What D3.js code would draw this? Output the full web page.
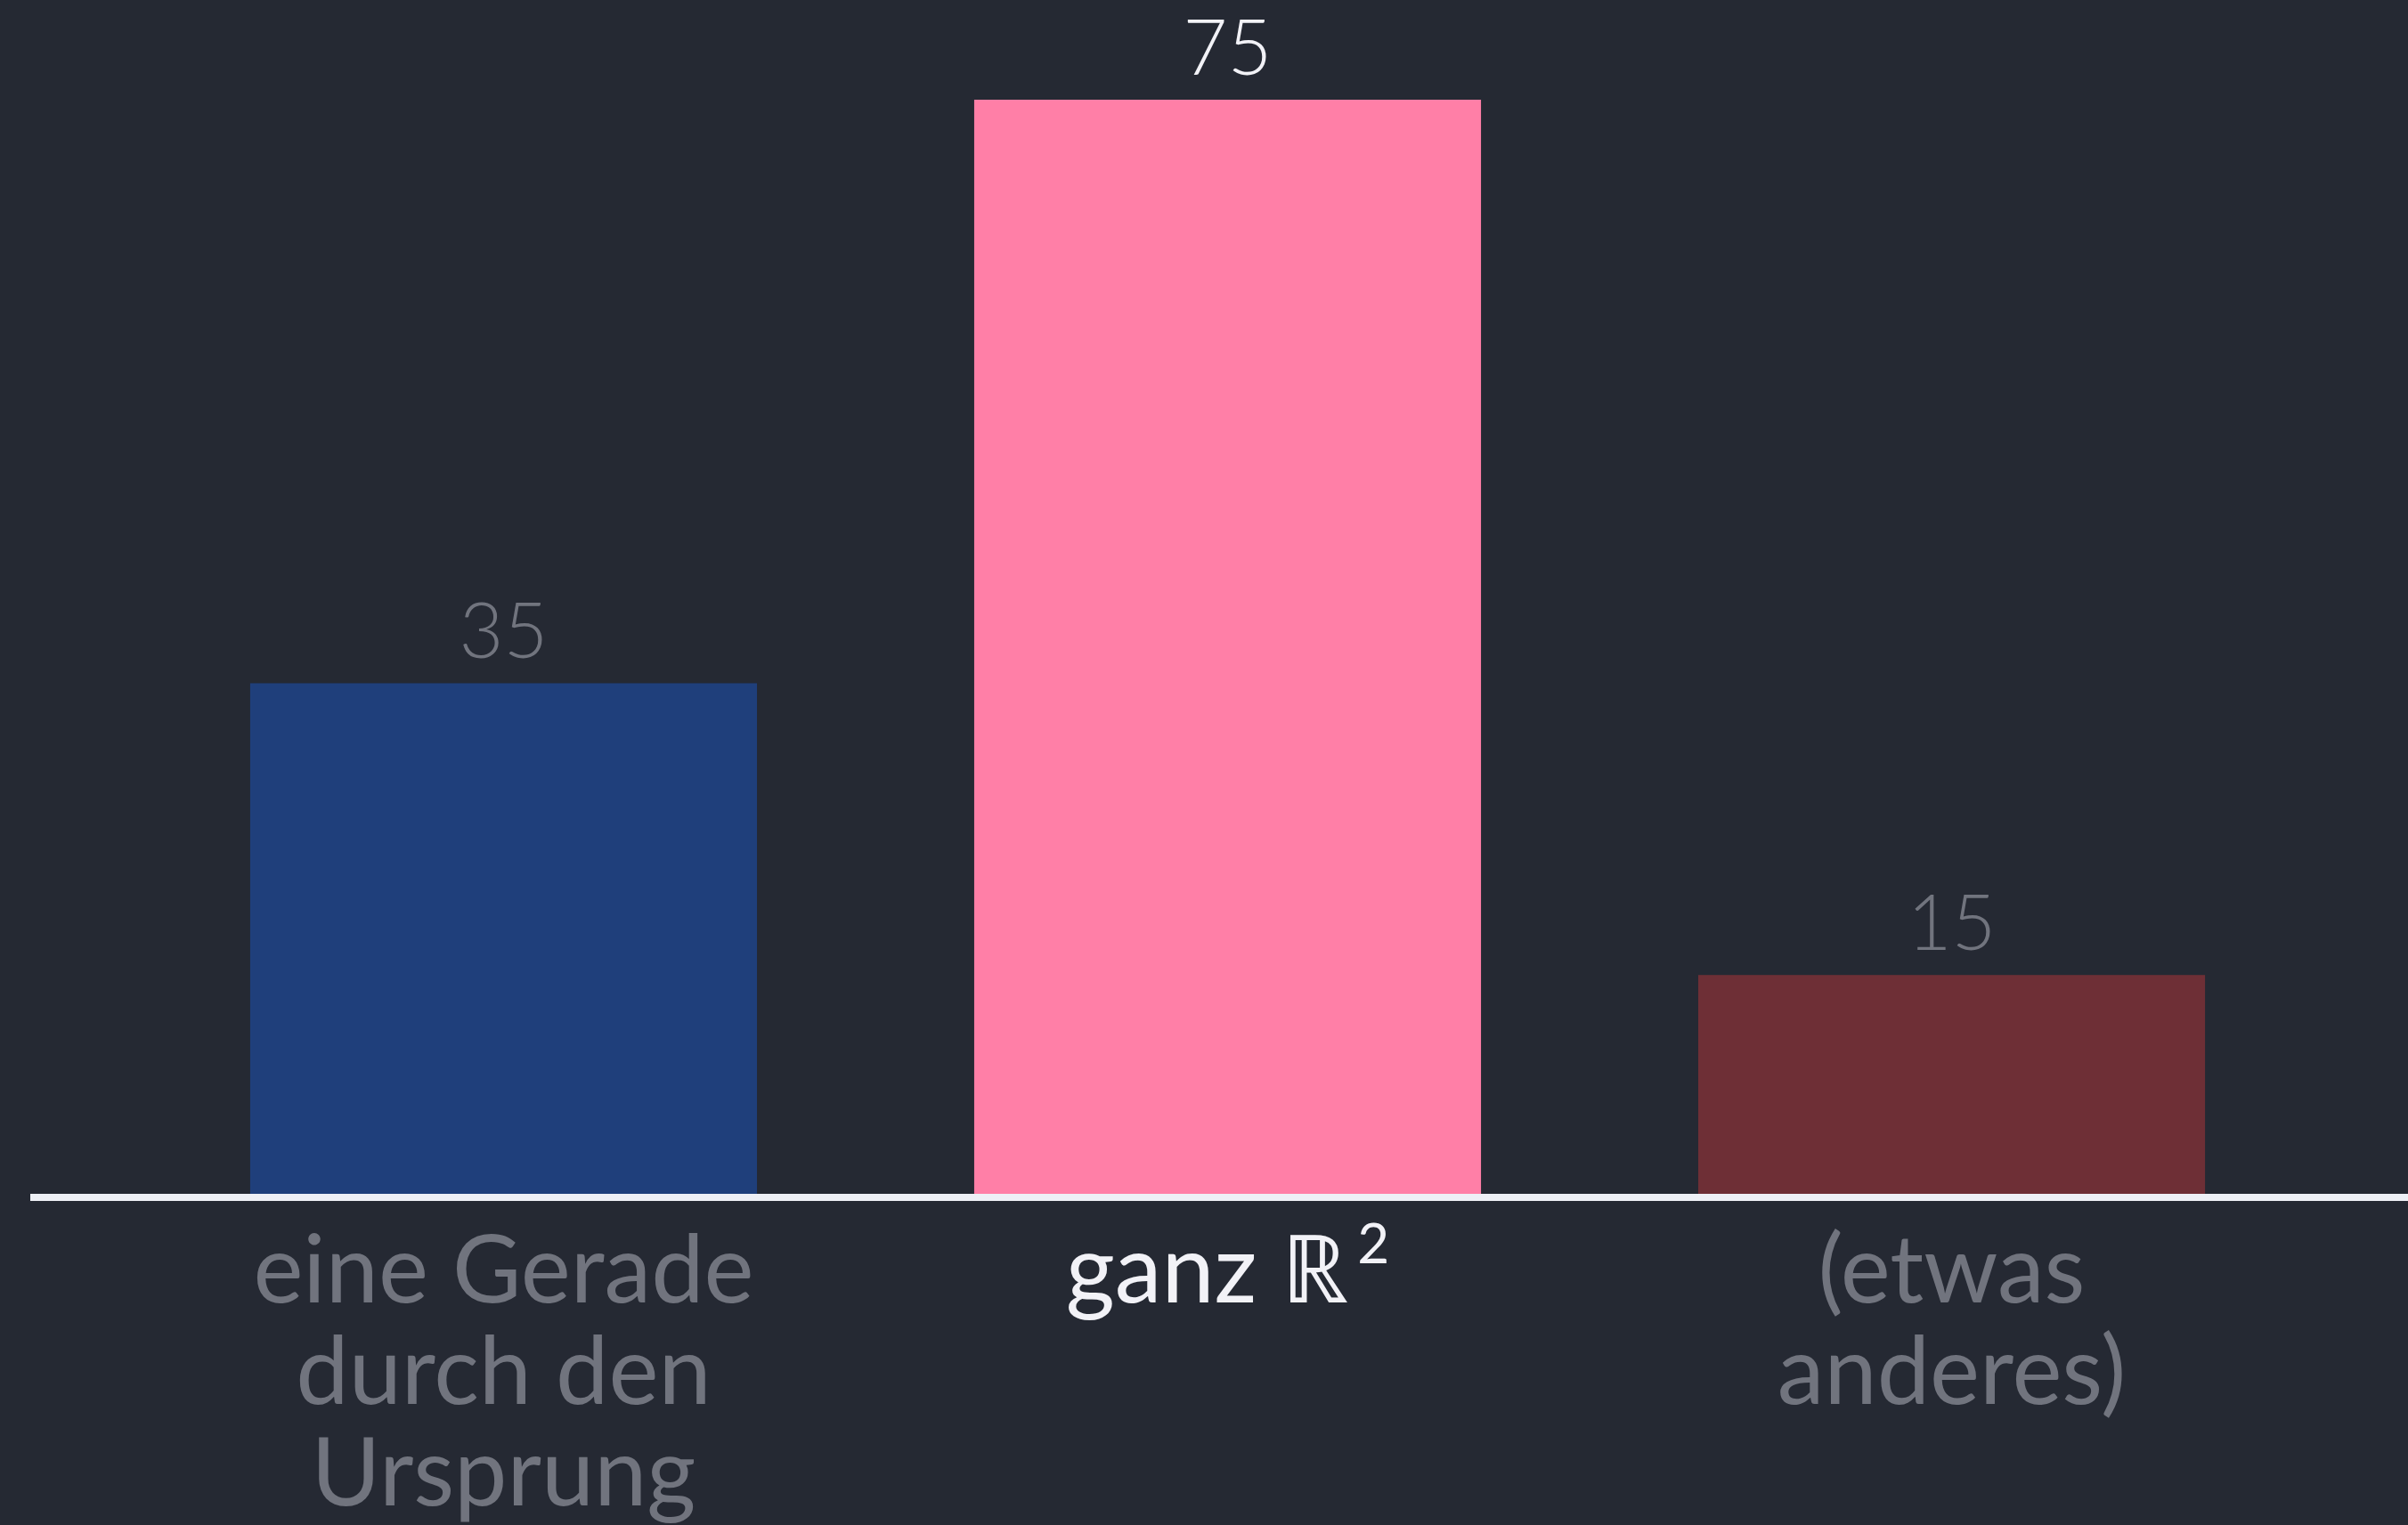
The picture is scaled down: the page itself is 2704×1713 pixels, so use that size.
<!DOCTYPE html>
<html>
<head>
<meta charset="utf-8">
<script src="https://cdn.jsdelivr.net/npm/d3@7"></script>
<style>
  html, body { margin: 0; padding: 0; background: #252933; }
  svg { display: block; }
</style>
</head>
<body>
<svg id="chart"></svg>
<script>
// chart data
const categories = ["eine Gerade durch den Ursprung", "ganz ℝ²", "(etwas anderes)"];
const labelLines = [["eine Gerade", "durch den", "Ursprung"], ["ganz ℝ", "2"], ["(etwas", "anderes)"]];
const values = [35, 75, 15];
const barColors = ["#1f3f7b", "#ff7fa7", "#6e2f36"];
const highlighted = [false, true, false];

const width = 2704, height = 1713;
const baseY = 1341;

const svg = d3.select("#chart")
  .attr("width", width)
  .attr("height", height);

svg.append("rect")
  .attr("width", width)
  .attr("height", height)
  .attr("fill", "#252933");

var x = d3.scaleBand()
  .domain(categories)
  .range([37, 2720])
  .paddingInner(0.3)
  .paddingOuter(0.3);

var y = d3.scaleLinear()
  .domain([0, 75])
  .range([baseY, 112]);

// bars
svg.selectAll(".bar")
  .data(values)
  .enter()
  .append("rect")
  .attr("class", "bar")
  .attr("x", (d, i) => x(categories[i]))
  .attr("width", x.bandwidth())
  .attr("y", d => y(d))
  .attr("height", d => baseY - y(d))
  .attr("fill", (d, i) => barColors[i]);

// value labels
svg.selectAll(".val")
  .data(values)
  .enter()
  .append("text")
  .attr("class", "val")
  .attr("x", (d, i) => x(categories[i]) + x.bandwidth() / 2)
  .attr("y", d => y(d) - 28)
  .attr("text-anchor", "middle")
  .attr("font-family", "Lato, 'Liberation Sans', sans-serif")
  .attr("font-weight", 300)
  .attr("font-size", 86)
  .attr("fill", (d, i) => highlighted[i] ? "#f2f2f7" : "#71747e")
  .text(d => d);

// baseline
svg.append("line")
  .attr("x1", 34)
  .attr("x2", width)
  .attr("y1", baseY + 4)
  .attr("y2", baseY + 4)
  .attr("stroke", "#eef0f6")
  .attr("stroke-width", 8);

// category labels
categories.forEach(function (c, i) {
  var cx = x(c) + x.bandwidth() / 2;
  var t = svg.append("text")
    .attr("text-anchor", "middle")
    .attr("font-family", "Lato, 'Noto Sans', sans-serif")
    .attr("font-size", 106)
    .attr("fill", highlighted[i] ? "#f2f2f7" : "#71747e");
  if (i === 1) {
    t.attr("x", cx).attr("y", 1463);
    t.append("tspan").text(labelLines[i][0]);
    t.append("tspan")
      .attr("font-size", 62)
      .attr("dy", -44)
      .attr("dx", 10)
      .text(labelLines[i][1]);
  } else {
    labelLines[i].forEach(function (line, j) {
      t.append("tspan")
        .attr("x", cx)
        .attr("y", 1463 + j * 114)
        .text(line);
    });
  }
});
</script>
</body>
</html>
